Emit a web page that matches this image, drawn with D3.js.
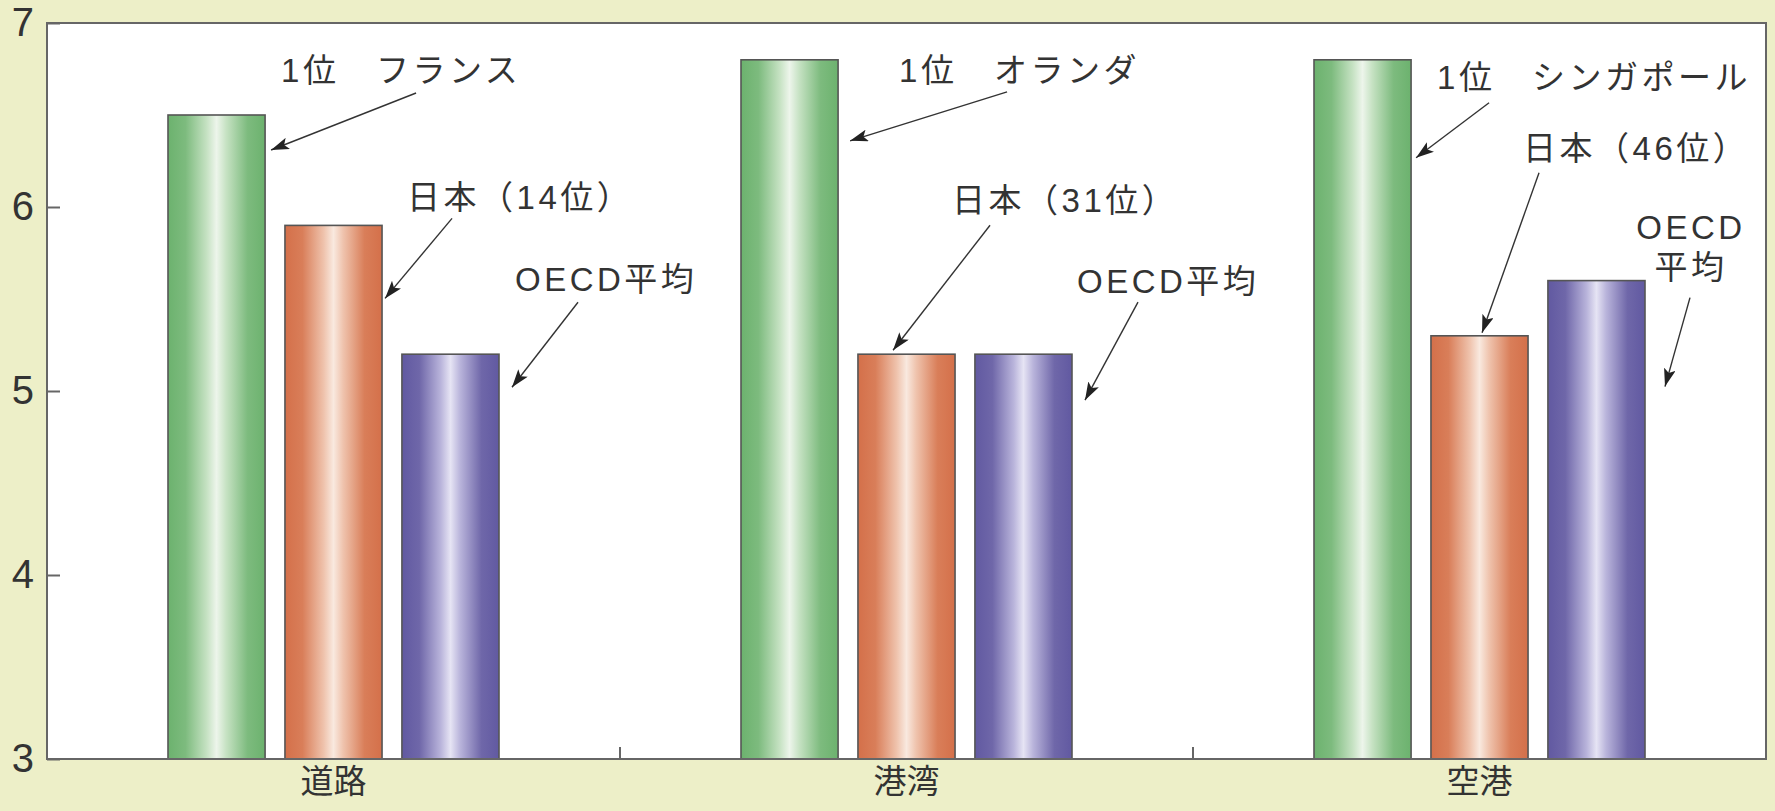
<!DOCTYPE html>
<html>
<head>
<meta charset="utf-8">
<script src="https://cdn.jsdelivr.net/npm/d3@7"></script>
<style>
  html, body { margin: 0; padding: 0; background: #edefc8; }
  svg { display: block; }
</style>
</head>
<body>
<svg id="chart" width="1775" height="811"></svg>
<script>
// ---- data ----
const categories = ["道路", "港湾", "空港"];
const seriesNames = ["1位", "日本", "OECD平均"];
const top1Values = [6.5, 6.8, 6.8];
const japanValues = [5.9, 5.2, 5.3];
const oecdValues = [5.2, 5.2, 5.6];
const yTicks = [3, 4, 5, 6, 7];
const top1Labels = ["1位　フランス", "1位　オランダ", "1位　シンガポール"];
const japanLabels = ["日本（14位）", "日本（31位）", "日本（46位）"];
const oecdLabels = [["OECD平均"], ["OECD平均"], ["OECD", "平均"]];

// ---- layout (offsets relative to each bar's top-right corner) ----
const annotLayout = [
  [ {tx:16, ty:-45, anchor:"start", ax1:151, ay1:-22, ax2:6, ay2:35},
    {tx:25, ty:-28, anchor:"start", ax1:70, ay1:-7, ax2:3, ay2:73},
    {tx:16, ty:-75, anchor:"start", ax1:79, ay1:-52, ax2:13, ay2:33} ],
  [ {tx:61, ty:10, anchor:"start", ax1:169, ay1:32, ax2:12, ay2:81},
    {tx:-3, ty:-154, anchor:"start", ax1:35, ay1:-129, ax2:-62, ay2:-4},
    {tx:5, ty:-73, anchor:"start", ax1:66, ay1:-52, ax2:13, ay2:46} ],
  [ {tx:26, ty:17, anchor:"start", ax1:78, ay1:43, ax2:5, ay2:98},
    {tx:-5, ty:-188, anchor:"start", ax1:11, ay1:-163, ax2:-46, ay2:-3},
    {tx:46, ty:-53, anchor:"middle", ax1:45, ay1:17, ax2:20, ay2:106, lineGap:40} ]
];

const W = 1775, H = 811;
const margin = {left: 47, right: 9, top: 23, bottom: 52};
const svg = d3.select("#chart");

const x0 = d3.scaleBand().domain(categories).range([margin.left, W - margin.right]);
const x1 = d3.scaleBand().domain(seriesNames).range([121, 452]).paddingInner(0.17);
const y = d3.scaleLinear().domain([3, 7]).range([H - margin.bottom, margin.top]);

const colors = {
  "1位":     {edge: "#6cb26e", mid: "#7dbb7e", light: "#c6e2c3", center: "#edf5eb"},
  "日本":    {edge: "#d4704a", mid: "#d97e59", light: "#efc3ad", center: "#f9e9df"},
  "OECD平均": {edge: "#6159a1", mid: "#6f67a9", light: "#b9b4db", center: "#e6e4f4"}
};

const defs = svg.append("defs");
seriesNames.forEach((s, i) => {
  const c = colors[s];
  const g = defs.append("linearGradient").attr("id", "grad" + i)
    .attr("x1", "0%").attr("x2", "100%").attr("y1", "0%").attr("y2", "0%");
  [[0, c.edge], [0.18, c.mid], [0.40, c.light], [0.5, c.center], [0.60, c.light], [0.82, c.mid], [1, c.edge]]
    .forEach(([o, col]) => g.append("stop").attr("offset", o).attr("stop-color", col));
});
defs.append("marker").attr("id", "arrowhead")
  .attr("viewBox", "0 0 18 12").attr("refX", 18).attr("refY", 6)
  .attr("markerWidth", 18).attr("markerHeight", 12)
  .attr("markerUnits", "userSpaceOnUse").attr("orient", "auto")
  .append("path").attr("d", "M0,0 L18,6 L0,12 L4,6 Z").attr("fill", "#222");

// plot background
svg.append("rect")
  .attr("x", margin.left).attr("y", margin.top)
  .attr("width", W - margin.left - margin.right)
  .attr("height", H - margin.top - margin.bottom)
  .attr("fill", "#ffffff");

// bars
const rows = categories.map((c, i) => ({
  cat: c, i,
  vals: [top1Values[i], japanValues[i], oecdValues[i]]
}));
const groups = svg.append("g").selectAll("g").data(rows).join("g")
  .attr("transform", d => `translate(${x0(d.cat)},0)`);
groups.selectAll("rect")
  .data(d => d.vals.map((v, j) => ({s: seriesNames[j], j, v})))
  .join("rect")
  .attr("x", d => x1(d.s))
  .attr("width", x1.bandwidth())
  .attr("y", d => y(d.v))
  .attr("height", d => y(3) - y(d.v))
  .attr("fill", d => `url(#grad${d.j})`)
  .attr("stroke", "#555")
  .attr("stroke-width", 1.6);

// frame
svg.append("rect")
  .attr("x", margin.left).attr("y", margin.top)
  .attr("width", W - margin.left - margin.right)
  .attr("height", H - margin.top - margin.bottom)
  .attr("fill", "none").attr("stroke", "#666").attr("stroke-width", 2);

// y axis
const yAxis = d3.axisLeft(y).tickValues(yTicks).tickSize(-13).tickPadding(13).tickFormat(d3.format("d"));
const ya = svg.append("g").attr("transform", `translate(${margin.left},0)`).call(yAxis);
ya.select(".domain").remove();
ya.selectAll(".tick line").attr("stroke", "#666").attr("stroke-width", 2);
ya.selectAll(".tick text").attr("font-family", "'Liberation Sans', Arial, sans-serif")
  .attr("font-size", 40).attr("fill", "#333");

// x axis (category labels + separator ticks)
const xAxis = d3.axisBottom(x0).tickSize(0).tickPadding(16);
const xa = svg.append("g").attr("transform", `translate(0,${H - margin.bottom})`).call(xAxis);
xa.select(".domain").remove();
xa.selectAll(".tick text").attr("font-family", "'Noto Sans CJK JP', sans-serif")
  .attr("font-size", 33).attr("fill", "#333").attr("dy", "0.55em");
svg.append("g").selectAll("line")
  .data(categories.slice(1))
  .join("line")
  .attr("x1", d => x0(d)).attr("x2", d => x0(d))
  .attr("y1", y(3)).attr("y2", y(3) - 12)
  .attr("stroke", "#666").attr("stroke-width", 2);

// annotations
const annots = [];
rows.forEach(r => {
  const labels = [[top1Labels[r.i]], [japanLabels[r.i]], oecdLabels[r.i]];
  r.vals.forEach((v, j) => {
    const L = annotLayout[r.i][j];
    const xr = x0(r.cat) + x1(seriesNames[j]) + x1.bandwidth();
    const yt = y(v);
    annots.push({xr, yt, L, lines: labels[j]});
  });
});
const ag = svg.append("g");
ag.selectAll("line").data(annots).join("line")
  .attr("x1", d => d.xr + d.L.ax1).attr("y1", d => d.yt + d.L.ay1)
  .attr("x2", d => d.xr + d.L.ax2).attr("y2", d => d.yt + d.L.ay2)
  .attr("stroke", "#333").attr("stroke-width", 1.4)
  .attr("marker-end", "url(#arrowhead)");
ag.selectAll("g.lbl").data(annots).join("g").attr("class", "lbl")
  .each(function(d) {
    const g = d3.select(this);
    d.lines.forEach((ln, k) => {
      g.append("text")
        .attr("x", d.xr + d.L.tx)
        .attr("y", d.yt + d.L.ty + k * (d.L.lineGap || 0))
        .attr("dy", "0.36em")
        .attr("text-anchor", d.L.anchor)
        .attr("font-family", "'Liberation Sans', 'Noto Sans CJK JP', sans-serif")
        .attr("font-size", 33).attr("fill", "#333")
        .attr("letter-spacing", 3.5)
        .text(ln);
    });
  });
</script>
</body>
</html>
